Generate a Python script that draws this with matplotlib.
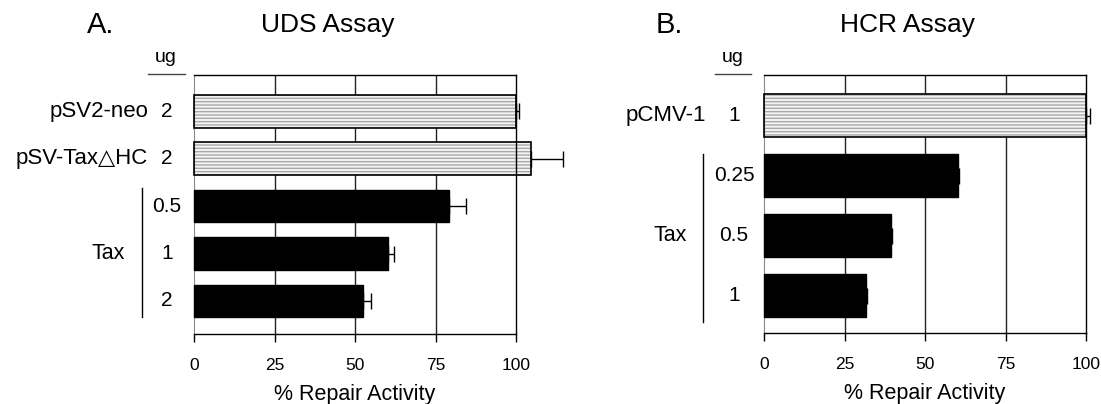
import matplotlib.pyplot as plt
from matplotlib.transforms import blended_transform_factory
import numpy as np

plt.rcParams['font.family'] = ['Liberation Sans', 'DejaVu Sans']

# panel A: UDS assay
uds_names = ['pSV2-neo', 'pSV-Tax\u25b3HC', '', '', '']
uds_ug = ['2', '2', '0.5', '1', '2']
uds_vals = [100, 104.6, 79.1, 60.4, 52.4]
uds_err = [1.0, 10.0, 5.3, 1.7, 2.6]
uds_hatched = [True, True, False, False, False]

# panel B: HCR assay
hcr_names = ['pCMV-1', '', '', '']
hcr_ug = ['1', '0.25', '0.5', '1']
hcr_vals = [100, 60.2, 39.4, 31.6]
hcr_err = [1.3, 0.4, 0.5, 0.5]
hcr_hatched = [True, False, False, False]

xticks = [0, 25, 50, 75, 100]

W, H = 1101, 404
fig = plt.figure(figsize=(W / 100, H / 100), dpi=100)


def px(x, y):
    return x / W, 1 - y / H


def panel(rect, vals, err, hatched, height, ylim):
    ax = fig.add_axes(rect)
    y = np.arange(len(vals))
    for g in [25, 50, 75]:
        ax.axvline(g, color='#222222', lw=1.0, zorder=0)
    for yi, v, h in zip(y, vals, hatched):
        if h:
            ax.barh(yi, v, height=height, color='#f4f4f4', edgecolor='#a8a8a8',
                    hatch='-----', lw=0, zorder=2, clip_on=False)
            ax.barh(yi, v, height=height, fill=False, edgecolor='black',
                    lw=1.2, zorder=3, clip_on=False)
        else:
            ax.barh(yi, v, height=height, color='black', edgecolor='black',
                    lw=1, zorder=3, clip_on=False)
    ax.errorbar(vals, y, xerr=[np.zeros(len(err)), err], fmt='none',
                ecolor='black', elinewidth=1, capsize=6, capthick=1,
                zorder=4, clip_on=False)
    ax.set_xlim(0, 100)
    ax.set_ylim(*ylim)
    ax.set_yticks([])
    ax.set_xticks(xticks)
    ax.set_xticklabels([str(t) for t in xticks], fontsize=12.5)
    ax.tick_params(axis='x', direction='out', length=6, width=1, pad=11)
    for s in ['top', 'right', 'bottom']:
        ax.spines[s].set_linewidth(1.0)
    ax.spines['left'].set_color('#888888')
    ax.spines['left'].set_linewidth(0.8)
    ax.set_xlabel('% Repair Activity', fontsize=15.5, labelpad=8)
    return ax


# axes A
axA = panel([194 / W, 1 - 334 / H, 322 / W, 259 / H], uds_vals, uds_err,
            uds_hatched, 0.69, (4.70, -0.77))
trA = blended_transform_factory(fig.transFigure, axA.transData)
for i, (n, u) in enumerate(zip(uds_names, uds_ug)):
    if n:
        fig.text(148 / W, i, n, transform=trA, ha='right', va='center', fontsize=16)
    fig.text(167 / W, i, u, transform=trA, ha='center', va='center', fontsize=15)
axA.add_line(plt.Line2D([142 / W, 142 / W], [1.62, 4.34], transform=trA,
                        color='black', lw=1, clip_on=False))
fig.text(108 / W, 3, 'Tax', transform=trA, ha='center', va='center', fontsize=15.5)
fig.text(*px(166, 58), 'ug', ha='center', va='center', fontsize=14)
fig.add_artist(plt.Line2D([148 / W, 185 / W], [1 - 74 / H] * 2, color='#444444', lw=1))
fig.text(*px(87, 25), 'A.', ha='left', va='center', fontsize=21)
fig.text(*px(328, 25), 'UDS Assay', ha='center', va='center', fontsize=19)

# axes B
axB = panel([764 / W, 1 - 333 / H, 322 / W, 258 / H], hcr_vals, hcr_err,
            hcr_hatched, 0.72, (3.62, -0.68))
trB = blended_transform_factory(fig.transFigure, axB.transData)
for i, (n, u) in enumerate(zip(hcr_names, hcr_ug)):
    if n:
        fig.text(706 / W, i, n, transform=trB, ha='right', va='center', fontsize=16)
    fig.text(734 / W, i, u, transform=trB, ha='center', va='center', fontsize=15)
axB.add_line(plt.Line2D([703 / W, 703 / W], [0.64, 3.43], transform=trB,
                        color='black', lw=1, clip_on=False))
fig.text(670 / W, 2, 'Tax', transform=trB, ha='center', va='center', fontsize=15.5)
fig.text(*px(733, 57), 'ug', ha='center', va='center', fontsize=14)
fig.add_artist(plt.Line2D([715 / W, 751 / W], [1 - 74 / H] * 2, color='#444444', lw=1))
fig.text(*px(656, 25), 'B.', ha='left', va='center', fontsize=21)
fig.text(*px(908, 25), 'HCR Assay', ha='center', va='center', fontsize=19)

fig.savefig('out.png', dpi=100)
